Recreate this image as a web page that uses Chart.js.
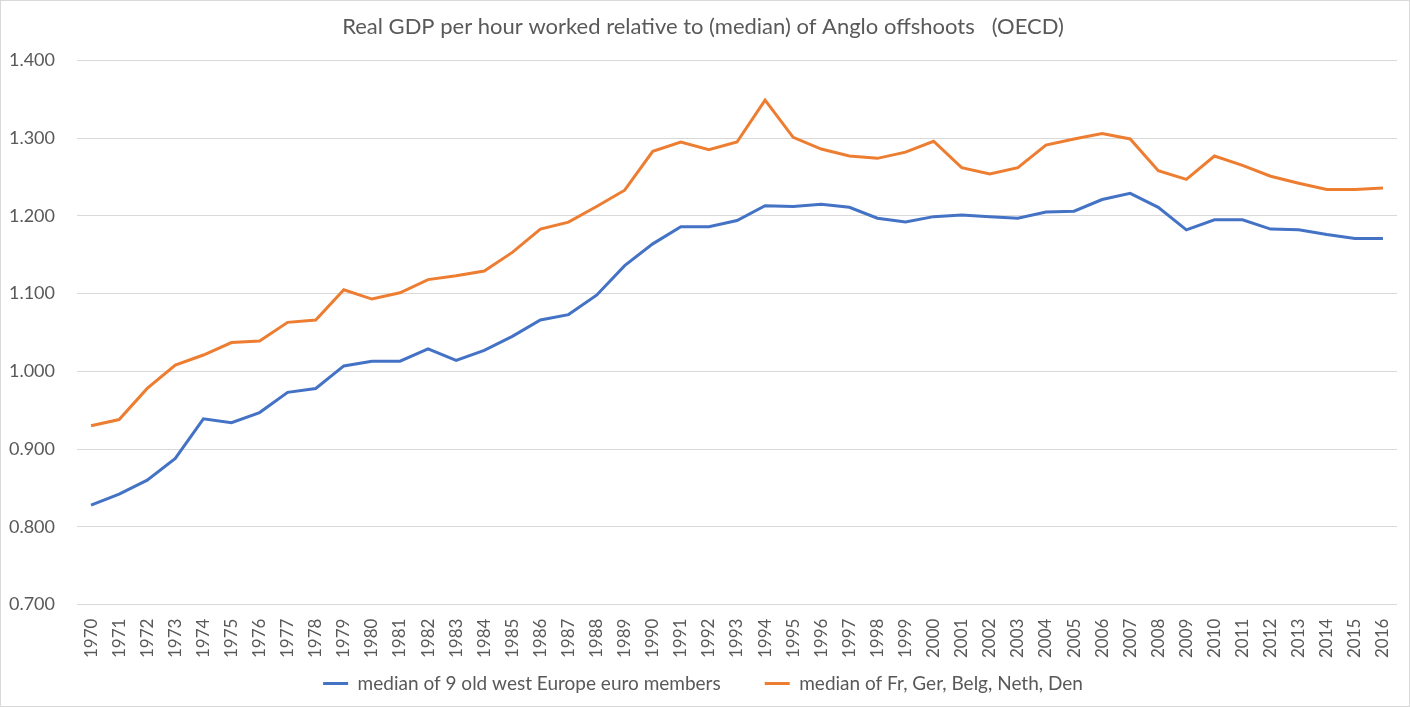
<!DOCTYPE html>
<html>
<head>
<meta charset="utf-8">
<script src="https://cdn.jsdelivr.net/npm/chart.js@4.4.1/dist/chart.umd.min.js"></script>
<style>
  html, body { margin: 0; padding: 0; background: #fff; }
  #wrap { position: absolute; left: 0; top: 0; width: 1408px; height: 705px; border: 1px solid #d9d9d9; }
</style>
</head>
<body>
<div id="wrap"><canvas id="lineChart"></canvas></div>
<script>
const years = ["1970","1971","1972","1973","1974","1975","1976","1977","1978","1979",
  "1980","1981","1982","1983","1984","1985","1986","1987","1988","1989",
  "1990","1991","1992","1993","1994","1995","1996","1997","1998","1999",
  "2000","2001","2002","2003","2004","2005","2006","2007","2008","2009",
  "2010","2011","2012","2013","2014","2015","2016"];

// median of 9 old west Europe euro members
const euro9 = [0.828, 0.842, 0.860, 0.888, 0.939, 0.934, 0.947, 0.973, 0.978, 1.007,
  1.013, 1.013, 1.029, 1.014, 1.027, 1.045, 1.066, 1.073, 1.098, 1.136,
  1.164, 1.186, 1.186, 1.194, 1.213, 1.212, 1.215, 1.211, 1.197, 1.192,
  1.199, 1.201, 1.199, 1.197, 1.205, 1.206, 1.221, 1.229, 1.211, 1.182,
  1.195, 1.195, 1.183, 1.182, 1.176, 1.171, 1.171];

// median of Fr, Ger, Belg, Neth, Den
const core5 = [0.930, 0.938, 0.978, 1.008, 1.021, 1.037, 1.039, 1.063, 1.066, 1.105,
  1.093, 1.101, 1.118, 1.123, 1.129, 1.153, 1.183, 1.192, 1.212, 1.233,
  1.283, 1.295, 1.285, 1.295, 1.349, 1.301, 1.286, 1.277, 1.274, 1.282,
  1.296, 1.262, 1.254, 1.262, 1.291, 1.299, 1.306, 1.299, 1.258, 1.247,
  1.277, 1.265, 1.251, 1.242, 1.234, 1.234, 1.236];

const seriesNames = ["median of 9 old west Europe euro members", "median of Fr, Ger, Belg, Neth, Den"];
const yTicks = [0.7, 0.8, 0.9, 1.0, 1.1, 1.2, 1.3, 1.4];

const grey = "#595959";
const fontFam = "Lato, Carlito, 'Liberation Sans', sans-serif";

let ctx = document.getElementById("lineChart").getContext("2d");
let lineChart = new Chart(ctx, {
  type: "line",
  data: {
    labels: years,
    datasets: [
      {
        label: seriesNames[0],
        data: euro9,
        borderColor: "#4472C4",
        backgroundColor: "#4472C4",
        borderWidth: 3,
        pointRadius: 0,
        tension: 0,
      },
      {
        label: seriesNames[1],
        data: core5,
        borderColor: "#ED7D31",
        backgroundColor: "#ED7D31",
        borderWidth: 3,
        pointRadius: 0,
        tension: 0,
      },
    ],
  },
  options: {
    responsive: true,
    maintainAspectRatio: false,
    animation: false,
    layout: { padding: { left: 8, right: 12, top: 8, bottom: 3 } },
    plugins: {
      title: {
        display: true,
        text: "Real GDP per hour worked relative to (median) of Anglo offshoots   (OECD)",
        color: grey,
        font: { family: fontFam, size: 22, weight: "normal" },
        padding: { top: 5, bottom: 20 },
      },
      legend: {
        position: "bottom",
        labels: {
          color: grey,
          font: { family: fontFam, size: 19 },
          usePointStyle: true,
          pointStyle: "line",
          pointStyleWidth: 25,
          padding: 10,
          // extra gap after the first entry, like the original legend
          generateLabels: (chart) => {
            const items = Chart.defaults.plugins.legend.labels.generateLabels(chart);
            items[0].text = items[0].text + "       ";
            return items;
          },
        },
      },
      tooltip: { enabled: false },
    },
    scales: {
      x: {
        offset: true,
        grid: { display: false },
        border: { display: false },
        afterFit: (scale) => { scale.paddingLeft = 0; scale.paddingRight = 0; },
        ticks: {
          color: grey,
          font: { family: fontFam, size: 17 },
          minRotation: 90,
          maxRotation: 90,
          autoSkip: false,
          padding: 6,
        },
      },
      y: {
        min: yTicks[0],
        max: yTicks[yTicks.length - 1],
        grid: { color: "#d9d9d9", lineWidth: 1, drawTicks: false },
        border: { display: false },
        afterBuildTicks: (axis) => { axis.ticks = yTicks.map(v => ({ value: v })); },
        afterFit: (scale) => { scale.width = 68; },
        ticks: {
          color: grey,
          font: { family: fontFam, size: 18 },
          padding: 22,
          callback: (v) => Number(v).toFixed(3),
        },
      },
    },
  },
});
</script>
</body>
</html>
